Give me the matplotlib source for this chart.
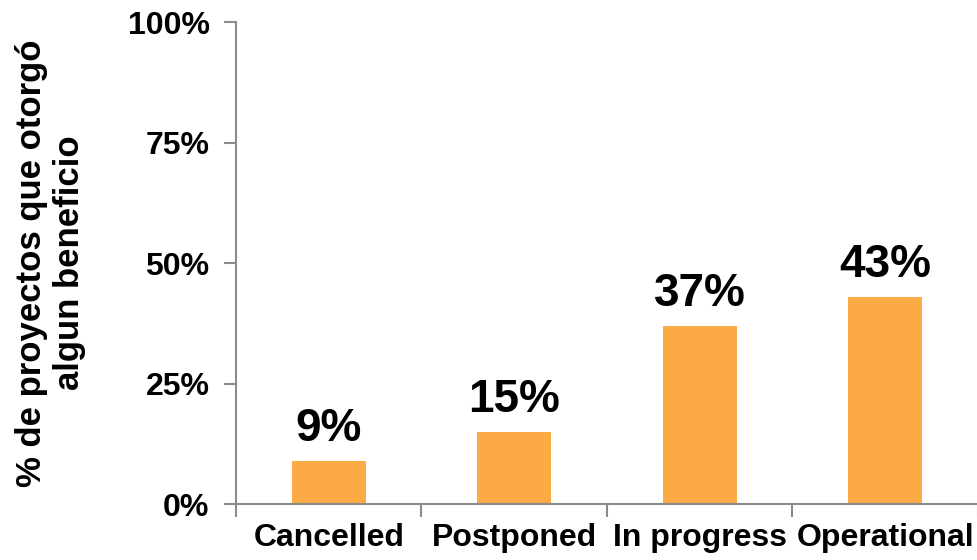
import numpy as np
import matplotlib.pyplot as plt

categories = ['Cancelled', 'Postponed', 'In progress', 'Operational']
values = [9, 15, 37, 43]
yticks = [0, 25, 50, 75, 100]

plt.rcParams['font.family'] = ['Liberation Sans', 'DejaVu Sans']
plt.rcParams['font.weight'] = 'bold'

fig = plt.figure(figsize=(9.78, 5.6), dpi=100)
ax = fig.add_axes([0.2413, 0.1, 0.7587, 0.8607])

x = np.arange(len(categories))
ax.bar(x, values, width=0.4, color='#FCAA45')

for xi, v in zip(x, values):
    ax.annotate(str(v) + '%', (xi, v), xytext=(0, 14), textcoords='offset points',
                ha='center', va='baseline', fontsize=33, fontweight='bold')

ax.set_xlim(-0.5, 3.5)
ax.set_ylim(0, 100)
ax.set_yticks(yticks)
ax.set_yticklabels([str(t) + '%' for t in yticks])
ax.set_xticks(x)
ax.set_xticklabels(categories)
ax.set_xticks(np.arange(-0.5, 3.6, 1), minor=True)

for s in ['top', 'right']:
    ax.spines[s].set_visible(False)
for s in ['left', 'bottom']:
    ax.spines[s].set_color('#8c8c8c')
    ax.spines[s].set_linewidth(1.5)

ax.tick_params(axis='y', length=9, width=1.5, color='#8c8c8c', labelsize=23, pad=10)
ax.tick_params(axis='x', which='major', length=0, labelsize=23, pad=14)
ax.tick_params(axis='x', which='minor', length=9, width=1.5, color='#8c8c8c')

ax.set_ylabel('% de proyectos que otorgó\nalgun beneficio', fontsize=25, fontweight='bold',
              labelpad=30, linespacing=1.2)

fig.savefig('out.png', dpi=100)
